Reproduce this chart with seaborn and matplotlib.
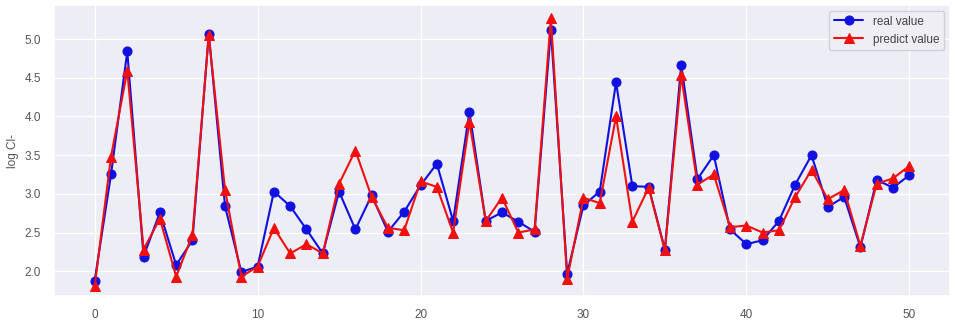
import numpy as np
import pandas as pd
import matplotlib
matplotlib.use("Agg")
import matplotlib.pyplot as plt
import seaborn as sns

real_value = [1.88, 3.25, 4.84, 2.19, 2.76, 2.08, 2.40, 5.07, 2.84, 1.99,
              2.06, 3.03, 2.84, 2.54, 2.23, 3.03, 2.54, 2.98, 2.51, 2.77,
              3.11, 3.39, 2.65, 4.06, 2.65, 2.76, 2.64, 2.51, 5.12, 1.97,
              2.85, 3.03, 4.44, 3.10, 3.09, 2.28, 4.67, 3.19, 3.50, 2.54,
              2.35, 2.40, 2.65, 3.12, 3.50, 2.83, 2.96, 2.31, 3.18, 3.08,
              3.24]
predict_value = [1.81, 3.48, 4.59, 2.28, 2.68, 1.93, 2.47, 5.05, 3.05, 1.93,
                 2.06, 2.56, 2.23, 2.35, 2.23, 3.13, 3.56, 2.96, 2.56, 2.53,
                 3.16, 3.09, 2.50, 3.93, 2.65, 2.95, 2.50, 2.54, 5.27, 1.90,
                 2.95, 2.88, 4.00, 2.64, 3.08, 2.27, 4.53, 3.12, 3.25, 2.57,
                 2.59, 2.50, 2.53, 2.96, 3.31, 2.93, 3.05, 2.33, 3.13, 3.20,
                 3.36]
sample_index = list(range(len(real_value)))
series_labels = ["real value", "predict value"]
y_label = "log Cl-"

sns.set_theme(style="darkgrid", rc={"axes.facecolor": "#ECEDF5", "grid.linewidth": 1.0})
plt.rcParams['font.family'] = ['Liberation Sans', 'DejaVu Sans']
plt.rcParams['font.size'] = 8.5

fig = plt.figure(figsize=(9.57, 3.23), dpi=100)
ax = fig.add_axes([0.0564, 0.0836, 0.9363, 0.9009])

df = pd.DataFrame({"idx": sample_index, "real": real_value, "pred": predict_value})
sns.lineplot(data=df, x="idx", y="real", ax=ax, color="#1010e0", marker="o",
             markersize=6.5, markeredgecolor="#1010e0", linewidth=1.5, label=series_labels[0])
sns.lineplot(data=df, x="idx", y="pred", ax=ax, color="#f01010", marker="^",
             markersize=6.5, markeredgecolor="#f01010", linewidth=1.5, label=series_labels[1])

ax.set_xlabel("")
ax.set_ylabel(y_label, fontsize=8.5, color="#555555")
ax.tick_params(axis="both", labelsize=8.5, colors="#555555")
ax.set_xticks([0, 10, 20, 30, 40, 50])
ax.set_yticks([2.0, 2.5, 3.0, 3.5, 4.0, 4.5, 5.0])
ax.set_xlim(-2.5, 52.5)
ax.set_ylim(1.68, 5.44)
leg = ax.legend(loc="upper right", fontsize=8.5, frameon=True, facecolor="#EEEEF4",
                edgecolor="#d0d0d8", framealpha=1, handlelength=2.5)
for t in leg.get_texts():
    t.set_color("#444444")

fig.savefig("out.png", dpi=100)
